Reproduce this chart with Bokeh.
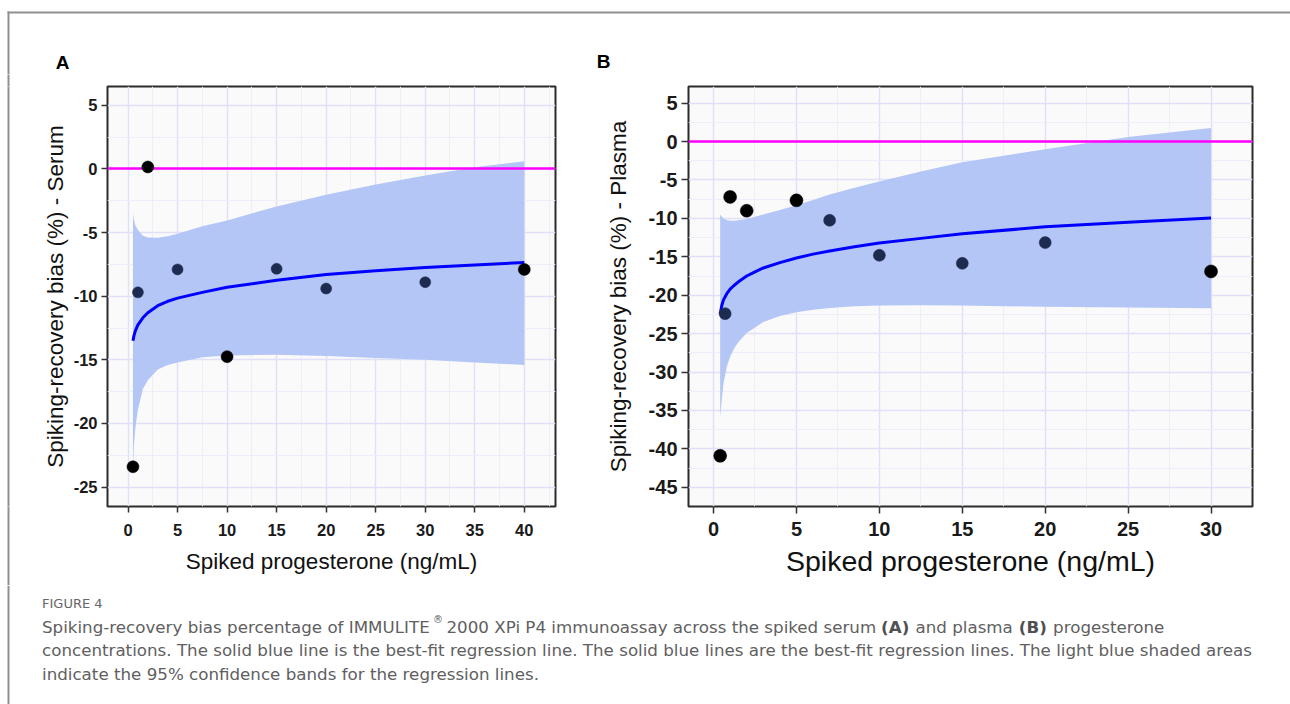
from bokeh.plotting import figure
from bokeh.layouts import column, row
from bokeh.models import Range1d, FixedTicker, LinearAxis
from bokeh.embed import file_html
from bokeh.resources import INLINE
from bokeh.core.properties import value

# ---------------- Panel A (serum) ----------------
a_x = [0.5, 1, 2, 5, 10, 15, 20, 30, 40]
a_bias = [-23.4, -9.7, 0.15, -7.9, -14.75, -7.85, -9.4, -8.9, -7.9]
a_group = ["dup", "single", "dup", "single", "dup", "single", "single", "single", "dup"]

a_fit_x = [0.5, 0.6, 0.75, 1, 1.5, 2, 3, 4, 5, 7.5, 10, 15, 20, 25, 30, 35, 40]
a_fit = [-13.5, -13.1, -12.7, -12.25, -11.7, -11.3, -10.75, -10.4, -10.15, -9.7, -9.3,
         -8.75, -8.3, -8.0, -7.75, -7.55, -7.35]
a_upper = [-3.5, -4.0, -4.45, -4.8, -5.25, -5.4, -5.42, -5.3, -5.1, -4.5, -4.05,
           -2.95, -2.03, -1.22, -0.52, 0.13, 0.6]
a_lower = [-23.4, -21.7, -20.3, -18.9, -17.3, -16.6, -15.75, -15.4, -15.2, -14.8, -14.65,
           -14.6, -14.7, -14.85, -15.0, -15.2, -15.4]

a_xticks = [0, 5, 10, 15, 20, 25, 30, 35, 40]
a_xlabels = ["0", "5", "10", "15", "20", "25", "30", "35", "40"]
a_yticks = [5, 0, -5, -10, -15, -20, -25]
a_ylabels = ["5", "0", "-5", "-10", "-15", "-20", "-25"]

# ---------------- Panel B (plasma) ----------------
b_x = [0.4, 0.7, 1, 2, 5, 7, 10, 15, 20, 30]
b_bias = [-40.9, -22.4, -7.2, -9.0, -7.65, -10.25, -14.8, -15.85, -13.15, -16.9]
b_group = ["dup", "single", "dup", "dup", "dup", "single", "single", "single", "single", "dup"]

b_fit_x = [0.4, 0.5, 0.6, 0.8, 1, 1.25, 1.5, 2, 2.5, 3, 4, 5, 6, 7, 8.5, 10, 12.5, 15, 20, 25, 30]
b_fit = [-22.44, -21.3, -20.6, -19.8, -19.2, -18.7, -18.25, -17.5, -16.95, -16.45, -15.75,
         -15.15, -14.65, -14.25, -13.7, -13.2, -12.6, -12.0, -11.1, -10.5, -9.96]
b_upper = [-9.5, -9.8, -10.0, -10.2, -10.3, -10.3, -10.25, -10.07, -9.8, -9.5, -8.9,
           -8.3, -7.6, -6.9, -6.0, -5.2, -3.9, -2.7, -1.0, 0.6, 1.76]
b_lower = [-35.9, -33.5, -31.5, -29.3, -28.0, -26.9, -26.1, -24.9, -24.2, -23.5, -22.7,
           -22.2, -21.9, -21.65, -21.45, -21.35, -21.3, -21.35, -21.5, -21.6, -21.7]

b_xticks = [0, 5, 10, 15, 20, 25, 30]
b_xlabels = ["0", "5", "10", "15", "20", "25", "30"]
b_yticks = [5, 0, -5, -10, -15, -20, -25, -30, -35, -40, -45]
b_ylabels = ["5", "0", "-5", "-10", "-15", "-20", "-25", "-30", "-35", "-40", "-45"]

GROUP_COLORS = {"dup": "#000000", "single": "#1e2b50"}
BAND = "#b4c6f6"
LINE = "#0000ff"
ZERO = "#ff00ff"
FONT = "Liberation Sans"


def minor_between(ticks):
    t = sorted(ticks)
    step = t[1] - t[0]
    return [v + step / 2 for v in t] + [t[0] - step / 2]


def panel(width, height, mbl, mbr, mbt, mbb, xr, yr,
          xs, ys, groups, fx, fy, up, lo,
          xt, xl, yt, yl, ylab, tick_fs, xlab_fs, ylab_fs,
          tick_out, xstand, ystand, xlstand, ylstand, dot):
    p = figure(width=width, height=height, x_range=Range1d(*xr), y_range=Range1d(*yr),
               output_backend="svg", toolbar_location=None, tools="",
               min_border_left=mbl, min_border_right=mbr,
               min_border_top=mbt, min_border_bottom=mbb)
    p.background_fill_color = "#fafafa"
    p.border_fill_color = "white"
    p.outline_line_color = "#2b2b2b"
    p.outline_line_width = 2

    xtk = FixedTicker(ticks=xt, minor_ticks=minor_between(xt))
    ytk = FixedTicker(ticks=yt, minor_ticks=minor_between(yt))
    p.xaxis.ticker = xtk
    p.yaxis.ticker = ytk
    p.xgrid.ticker = xtk
    p.ygrid.ticker = ytk
    for g in (p.xgrid, p.ygrid):
        g.grid_line_color = "#e0e0f8"
        g.grid_line_width = 1.5
        g.minor_grid_line_color = "#eeeefa"
        g.minor_grid_line_width = 1

    p.xaxis.major_label_overrides = dict(zip(xt, xl))
    p.yaxis.major_label_overrides = dict(zip(yt, yl))

    for ax in (p.xaxis, p.yaxis):
        ax.axis_line_color = None
        ax.major_tick_line_color = "#333333"
        ax.major_tick_line_width = 1.5
        ax.major_tick_in = 0
        ax.major_tick_out = tick_out
        ax.minor_tick_line_color = None
        ax.major_label_text_font = FONT
        ax.major_label_text_font_style = "bold"
        ax.major_label_text_font_size = tick_fs
        ax.major_label_text_color = "#1a1a1a"
        ax.axis_label_text_font = FONT
        ax.axis_label_text_font_style = "normal"
        ax.axis_label_text_color = "#111111"
    p.xaxis.major_label_standoff = xstand
    p.yaxis.major_label_standoff = ystand
    p.xaxis.axis_label = "Spiked progesterone (ng/mL)"
    p.xaxis.axis_label_text_font_size = xlab_fs
    p.xaxis.axis_label_standoff = xlstand
    p.yaxis.axis_label = ylab
    p.yaxis.axis_label_text_font_size = ylab_fs
    p.yaxis.axis_label_standoff = ylstand

    p.varea(x=fx, y1=lo, y2=up, fill_color=BAND, fill_alpha=1.0)
    p.hspan(y=[0], line_color=ZERO, line_width=2.5)
    p.line(x=fx, y=fy, line_color=LINE, line_width=3)
    cols = [GROUP_COLORS[g] for g in groups]
    sizes = [dot + 1 if g == "dup" else dot for g in groups]
    p.scatter(x=xs, y=ys, size=sizes, fill_color=cols, line_color=cols, line_width=0.5)
    return p


def strip(w, h, fill="white"):
    s = figure(width=w, height=h, x_range=Range1d(0, w), y_range=Range1d(h, 0),
               output_backend="svg", toolbar_location=None, tools="",
               x_axis_type=None, y_axis_type=None, min_border=0)
    s.outline_line_color = None
    s.background_fill_color = fill
    s.border_fill_color = fill
    return s


EDGE = "#8f8f8f"

# top strip with panel letters and outer border
top = strip(1290, 74)
top.segment(x0=[7], y0=[12], x1=[1290], y1=[12], line_color=EDGE, line_width=2)
top.segment(x0=[8], y0=[11], x1=[8], y1=[74], line_color=EDGE, line_width=2)
top.text(x=[62, 603], y=[62, 61], text=["A", "B"], text_font=value(FONT),
         text_font_style="bold", text_font_size="19px", text_color="#000000",
         text_align="center", text_baseline="middle")

# left border of the figure box: a line inside the (row-aligned) frame, continued
# above and below the frame by one long tick mark on a label-less axis
left = strip(30, 511)
left.segment(x0=[8], y0=[0], x1=[8], y1=[511], line_color=EDGE, line_width=2)
for loc, ln in (("below", 79), ("above", 12)):
    edge_ax = LinearAxis(ticker=FixedTicker(ticks=[8], minor_ticks=[]),
                         axis_line_color=None, major_tick_in=0, major_tick_out=ln,
                         major_tick_line_color=EDGE, major_tick_line_width=2,
                         minor_tick_line_color=None, major_label_text_font_size="0px",
                         major_label_standoff=0, major_label_overrides={8: ""})
    left.add_layout(edge_ax, loc)

pa = panel(550, 511, 77, 25, 12, 79, (-2.07, 43.15), (-26.52, 6.47),
           a_x, a_bias, a_group, a_fit_x, a_fit, a_upper, a_lower,
           a_xticks, a_xlabels, a_yticks, a_ylabels,
           "Spiking-recovery bias (%) - Serum", "16.5px", "22.5px", "22.5px",
           6, 11, 4, 10, 3, 11)

pb = panel(710, 511, 108, 38, 12, 79, (-1.51, 32.5), (-47.5, 7.17),
           b_x, b_bias, b_group, b_fit_x, b_fit, b_upper, b_lower,
           b_xticks, b_xlabels, b_yticks, b_ylabels,
           "Spiking-recovery bias (%) - Plasma", "20px", "28.5px", "22.5px",
           7, 8, 4, 6, 15, 12)

# caption
cap = strip(1290, 119)
cap.segment(x0=[8], y0=[0], x1=[8], y1=[119], line_color=EDGE, line_width=2)
CF = "DejaVu Sans"
CC = "#606060"
CS = "16.7px"
cap.text(x=[41.5], y=[17.5], text=["FIGURE 4"], text_font=value(CF), text_font_size="13px",
         text_color="#666666", text_baseline="middle")
seg_x = [41.5, 446, 915, 1052.6]
seg_t = ["Spiking-recovery bias percentage of IMMULITE",
         "2000 XPi P4 immunoassay across the spiked serum",
         "and plasma", "progesterone"]
cap.text(x=seg_x, y=[41] * 4, text=seg_t, text_font=value(CF), text_font_size=CS,
         text_color=CC, text_baseline="middle")
cap.text(x=[880.6, 1018.3], y=[41, 41], text=["(A)", "(B)"], text_font=value(CF),
         text_font_style="bold", text_font_size=CS, text_color="#505050",
         text_baseline="middle")
cap.text(x=[432.5], y=[34], text=["\u00ae"], text_font=value(CF), text_font_size="10px",
         text_color=CC, text_baseline="middle")
cap.text(x=[41.5, 41.5], y=[64.5, 88],
         text=["concentrations. The solid blue line is the best-fit regression line. "
               "The solid blue lines are the best-fit regression lines. The light blue shaded areas",
               "indicate the 95% confidence bands for the regression lines."],
         text_font=value(CF), text_font_size=CS, text_color=CC, text_baseline="middle")

layout = column(top, row(left, pa, pb), cap)
open("out.html", "w").write(file_html(layout, INLINE))
